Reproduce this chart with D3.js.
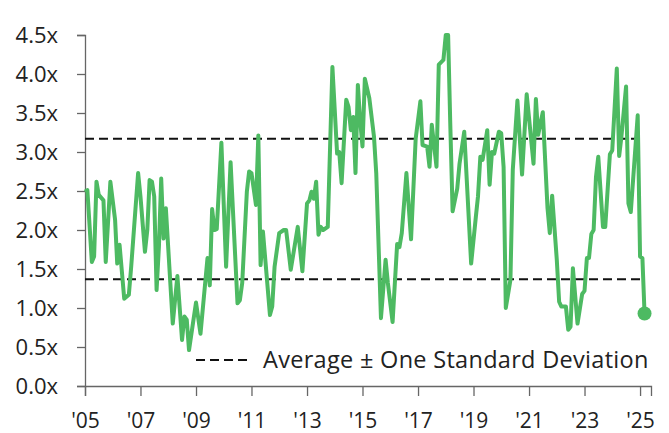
<!DOCTYPE html>
<html>
<head>
<meta charset="utf-8">
<script src="https://cdn.jsdelivr.net/npm/d3@7"></script>
<style>
  html, body { margin: 0; padding: 0; background: #fff; }
  svg { display: block; }
  text { font-family: "Open Sans", "Noto Sans", sans-serif; fill: #222; }
</style>
</head>
<body>
<svg id="chart" width="669" height="433"></svg>
<script>
// Monthly multiple (x) readings, 2005 – early 2025
const dates = [
  "2005-01","2005-02","2005-04","2005-05","2005-06","2005-07","2005-09","2005-10","2005-12",
  "2006-02","2006-03","2006-04","2006-06","2006-08","2006-09","2006-12",
  "2007-01","2007-03","2007-04","2007-05","2007-06","2007-07","2007-08","2007-09","2007-10","2007-11","2007-12",
  "2008-03","2008-05","2008-07","2008-08","2008-09","2008-10",
  "2009-01","2009-03","2009-06","2009-07","2009-08","2009-09","2009-10","2009-12",
  "2010-02","2010-04","2010-07","2010-08","2010-09","2010-11","2010-12",
  "2011-01","2011-03","2011-04","2011-05","2011-06","2011-09","2011-10","2011-11",
  "2012-01","2012-03","2012-04","2012-06","2012-09","2012-11",
  "2013-01","2013-02","2013-03","2013-04","2013-05","2013-06","2013-07","2013-08","2013-10","2013-12",
  "2014-02","2014-03","2014-04","2014-06","2014-07","2014-08","2014-09","2014-10","2014-11","2014-12",
  "2015-01","2015-02","2015-04","2015-06","2015-07","2015-09","2015-11","2015-12",
  "2016-02","2016-04","2016-05","2016-06","2016-08","2016-10","2016-12",
  "2017-02","2017-03","2017-05","2017-06","2017-07","2017-09","2017-10","2017-12",
  "2018-01","2018-02","2018-03","2018-04","2018-06","2018-07","2018-09","2018-12",
  "2019-02","2019-03","2019-04","2019-05","2019-07","2019-08","2019-09","2019-10","2019-12",
  "2020-01","2020-02","2020-03","2020-05","2020-06","2020-08","2020-10","2020-12",
  "2021-03","2021-04","2021-05","2021-07","2021-09","2021-10","2021-11",
  "2022-01","2022-02","2022-03","2022-05","2022-06","2022-07","2022-08","2022-10","2022-12",
  "2023-01","2023-02","2023-03","2023-04","2023-05","2023-06","2023-07","2023-09","2023-10","2023-12",
  "2024-01","2024-03","2024-04","2024-05","2024-07","2024-08","2024-09","2024-12",
  "2025-01","2025-02","2025-03"
];
const multiples = [
  2.49,2.51,1.59,1.66,2.62,2.45,2.38,1.59,2.62,
  2.13,1.57,1.81,1.12,1.17,1.53,2.73,
  2.43,1.72,2.00,2.64,2.62,2.43,1.23,1.79,2.66,1.89,2.28,
  0.80,1.41,0.59,0.89,0.85,0.46,
  1.07,0.67,1.64,1.29,2.27,2.00,2.01,3.12,
  1.53,2.87,1.06,1.10,1.32,2.49,2.75,
  2.73,2.32,3.21,1.55,1.98,0.91,1.02,1.53,
  1.96,2.00,2.00,1.49,2.04,1.47,
  2.34,2.38,2.49,2.40,2.62,1.94,2.04,2.00,2.04,4.09,
  2.98,3.00,2.60,3.67,3.58,3.28,3.45,2.73,3.86,3.41,
  3.07,3.94,3.69,3.20,2.73,0.87,1.62,1.32,
  0.82,1.82,1.78,1.96,2.73,1.88,3.17,
  3.65,3.09,3.07,2.81,3.35,2.81,4.12,4.18,
  4.50,4.50,3.37,2.24,2.53,2.85,3.26,1.57,
  2.17,2.43,2.94,2.90,3.28,2.58,3.00,2.98,3.26,
  3.24,2.81,1.00,1.36,2.77,3.66,2.71,3.74,
  2.85,3.68,3.22,3.51,2.28,1.96,2.44,
  1.62,1.08,1.02,1.02,0.72,0.76,1.51,0.80,1.18,
  1.22,1.64,1.64,1.95,2.00,2.68,2.94,2.04,2.04,2.97,
  3.02,4.07,2.95,3.20,3.84,2.34,2.23,3.47,
  1.66,1.64,0.93
];
// Long-run band: average ± one standard deviation
const bandLevels = [1.37, 3.17];
const yTicks = [0, 0.5, 1, 1.5, 2, 2.5, 3, 3.5, 4, 4.5];
const xTickYears = [2005, 2007, 2009, 2011, 2013, 2015, 2017, 2019, 2021, 2023, 2025];
const legendLabel = "Average \u00B1 One Standard Deviation";

const parse = d3.timeParse("%Y-%m");
const series = dates.map((d, i) => ({ date: parse(d), value: multiples[i] }));

const svg = d3.select("#chart");
const plot = { left: 85, right: 651, top: 35, bottom: 386 };

const x = d3.scaleTime()
  .domain([new Date(2005, 0, 1), new Date(2025, 4, 25)])
  .range([plot.left, plot.right]);
const y = d3.scaleLinear().domain([0, 4.5]).range([plot.bottom, plot.top]);

// Y axis
const yAxis = svg.append("g")
  .attr("transform", `translate(${plot.left},0)`)
  .call(d3.axisLeft(y).tickValues(yTicks).tickSize(8).tickPadding(19)
    .tickFormat(d => d3.format(".1f")(d) + "x"));
yAxis.select(".domain").attr("stroke", "#666").attr("stroke-width", 1.3);
yAxis.selectAll(".tick line").attr("stroke", "#666").attr("stroke-width", 1.3);
yAxis.selectAll("text").style("font-size", "22px").attr("fill", "#222");

// X axis
const xAxis = svg.append("g")
  .attr("transform", `translate(0,${plot.bottom})`)
  .call(d3.axisBottom(x).tickValues(xTickYears.map(yr => new Date(yr, 0, 1)))
    .tickSize(10).tickPadding(17)
    .tickFormat(d => "'" + d3.timeFormat("%y")(d)));
xAxis.select(".domain").attr("stroke", "#666").attr("stroke-width", 1.3);
xAxis.selectAll(".tick line").attr("stroke", "#666").attr("stroke-width", 1.3);
xAxis.selectAll("text").style("font-size", "21px").attr("fill", "#222");

// Band lines
svg.append("g").selectAll("line").data(bandLevels).join("line")
  .attr("x1", plot.left).attr("x2", 645)
  .attr("y1", d => y(d)).attr("y2", d => y(d))
  .attr("stroke", "#111").attr("stroke-width", 2)
  .attr("stroke-dasharray", "9,5");

// Series line
const line = d3.line().x(d => x(d.date)).y(d => y(d.value));
svg.append("path").datum(series)
  .attr("fill", "none")
  .attr("stroke", "#4dba62")
  .attr("stroke-width", 4)
  .attr("stroke-linejoin", "round")
  .attr("d", line);

// Latest value marker
const last = series[series.length - 1];
svg.append("circle")
  .attr("cx", x(last.date)).attr("cy", y(last.value))
  .attr("r", 7).attr("fill", "#4dba62");

// Legend
const lg = svg.append("g").attr("transform", "translate(196,360)");
lg.append("line").attr("x1", 0).attr("x2", 54).attr("y1", 0).attr("y2", 0)
  .attr("stroke", "#111").attr("stroke-width", 2).attr("stroke-dasharray", "9,5");
lg.append("text").attr("x", 67).attr("y", 0).attr("dy", "0.35em")
  .style("font-size", "23.5px").style("letter-spacing", "0.3px").text(legendLabel);
</script>
</body>
</html>
